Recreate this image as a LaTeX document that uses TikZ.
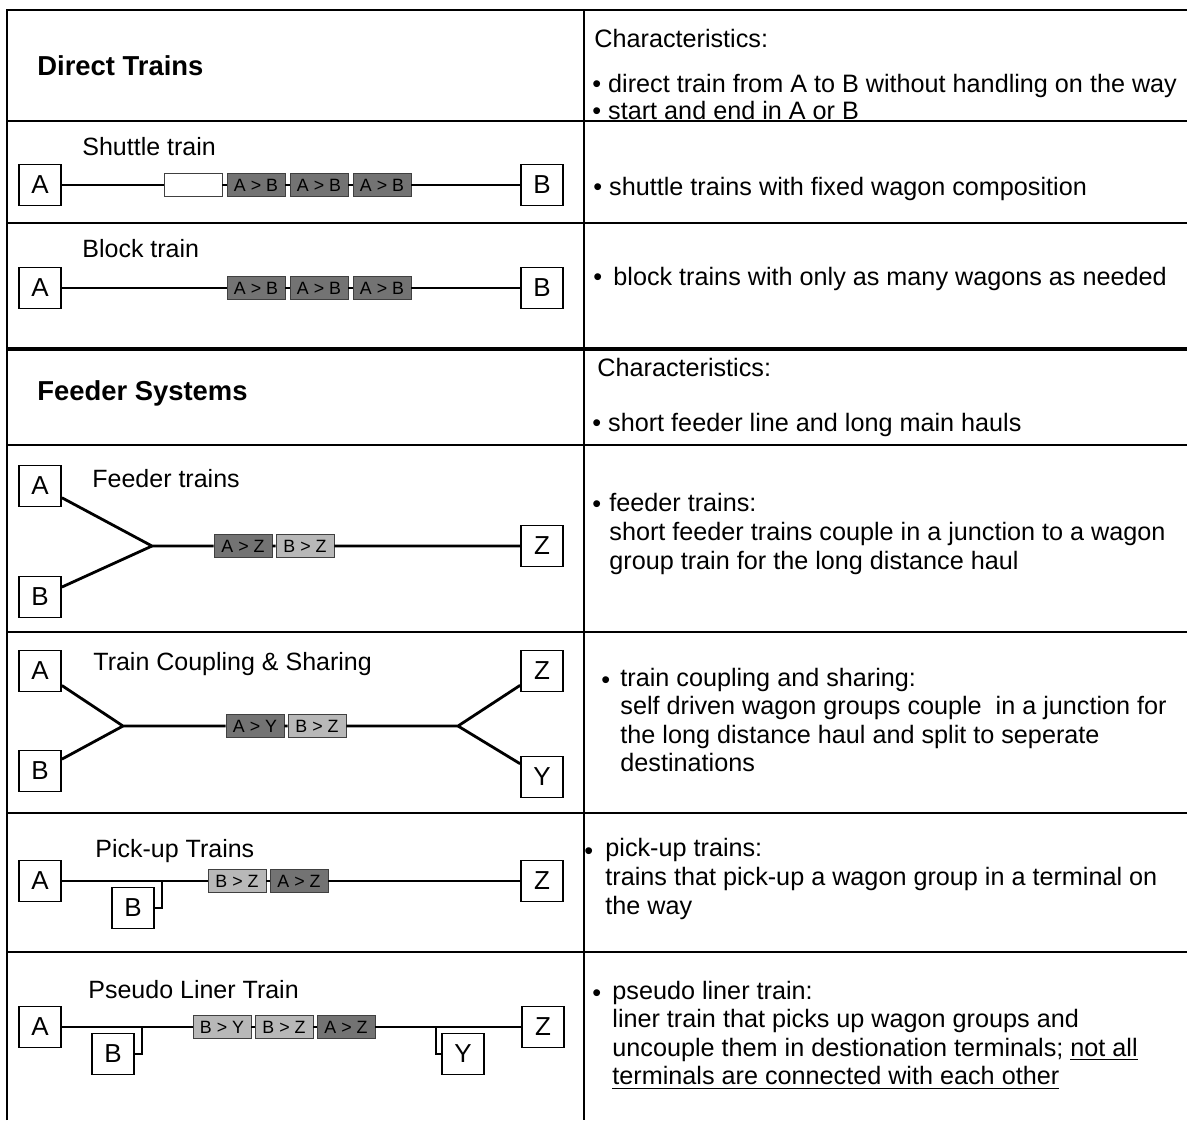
\documentclass[tikz,border=0pt]{standalone}
\usepackage{fontspec}
\setmainfont{Liberation Sans}
\tikzset{
  stn/.style={draw, line width=0.9pt, fill=white, minimum width=21pt, minimum height=20.5pt, inner sep=0pt, font=\fontsize{13}{14}\selectfont},
  wagon/.style={draw=black!75, line width=0.4pt, minimum width=29pt, minimum height=11.5pt, inner sep=0pt, font=\fontsize{8.9}{10}\selectfont},
  darkwagon/.style={wagon, fill=black!55},
  lightwagon/.style={wagon, fill=black!28},
  blankwagon/.style={wagon, fill=white},
  track/.style={line width=1.4pt},
  rule/.style={line width=0.9pt},
  lbl/.style={anchor=west, inner sep=0pt, font=\fontsize{12.5}{14}\selectfont},
  head/.style={anchor=west, inner sep=0pt, font=\bfseries\fontsize{13.7}{16}\selectfont},
  txt/.style={anchor=west, inner sep=0pt, align=left, font=\fontsize{12.6}{14.3}\selectfont},
}

\begin{document}
\begin{tikzpicture}[x=0.5pt, y=-0.5pt]
		%%%%% START %%%%%
		\useasboundingbox (0,0) rectangle (1187,1120);
		
		\draw[rule] (7,1120) -- (7,10) -- (1187,10);
		\draw[rule] (584,10) -- (584,1120);
		\draw[rule] (7,121) -- (1187,121);
		\draw[rule] (7,223) -- (1187,223);
		\draw[line width=1.8pt] (7,349) -- (1187,349);
		\draw[rule] (7,445) -- (1187,445);
		\draw[rule] (7,632) -- (1187,632);
		\draw[rule] (7,813) -- (1187,813);
		\draw[rule] (7,952) -- (1187,952);
		
		\node[head] (direct) at (37,66) {Direct Trains};
		\node[txt] (dchar) at (594,38) {Characteristics:};
		\node[txt] (dpt1) at (592,86) {\textbullet\ direct train from A to B without handling on the way};
		\node[txt] (dpt2) at (592,110) {\textbullet\ start and end in A or B};
		
		\node[lbl] (shuttle) at (82,147) {Shuttle train};
		\node[stn] (sa) at (40,185) {A};
		\node[blankwagon] (s0) at (193,185) {};
		\node[darkwagon] (s1) at (256,185) {A > B};
		\node[darkwagon] (s2) at (319,185) {A > B};
		\node[darkwagon] (s3) at (382,185) {A > B};
		\node[stn] (sb) at (542,185) {B};
		\draw[track] (sa) -- (s0) -- (s1) -- (s2) -- (s3) -- (sb);
		\node[txt] (spt) at (593,189) {\textbullet\ shuttle trains with fixed wagon composition};
		
		\node[lbl] (block) at (82,249) {Block train};
		\node[stn] (ba) at (40,288) {A};
		\node[darkwagon] (b1) at (256,288) {A > B};
		\node[darkwagon] (b2) at (319,288) {A > B};
		\node[darkwagon] (b3) at (382,288) {A > B};
		\node[stn] (bb) at (542,288) {B};
		\draw[track] (ba) -- (b1) -- (b2) -- (b3) -- (bb);
		\node[txt] (bpt) at (593,279) {\textbullet\ \,block trains with only as many wagons as needed};
		
		\node[head] (feeder) at (37,393) {Feeder Systems};
		\node[txt] (fchar) at (597,367) {Characteristics:};
		\node[txt] (fpt) at (592,425) {\textbullet\ short feeder line and long main hauls};
		
		\node[lbl] (feedlbl) at (92,479) {Feeder trains};
		\node[stn] (fa) at (40,486) {A};
		\node[stn] (fb) at (40,597) {B};
		\coordinate (fj) at (152,546);
		\node[darkwagon] (f1) at (243,546) {A > Z};
		\node[lightwagon] (f2) at (305,546) {B > Z};
		\node[stn] (fz) at (542,546) {Z};
		\draw[track] (fa) -- (fj) -- (f1) -- (f2) -- (fz);
		\draw[track] (fb) -- (fj);
		\node[txt] (fbul) at (592,506) {\textbullet\vphantom{fy}};
		\node[txt] (ftxt) at (609,534) {feeder trains:\\short feeder trains couple in a junction to a wagon\\group train for the long distance haul};
		
		\node[lbl] (couplbl) at (93,664) {Train Coupling \& Sharing};
		\node[stn] (ca) at (40,671) {A};
		\node[stn] (cb) at (40,771) {B};
		\coordinate (cj1) at (123,726);
		\node[darkwagon] (c1) at (255,726) {A > Y};
		\node[lightwagon] (c2) at (317,726) {B > Z};
		\coordinate (cj2) at (458,726);
		\node[stn] (cz) at (542,671) {Z};
		\node[stn] (cy) at (542,777) {Y};
		\draw[track] (ca) -- (cj1) -- (c1) -- (c2) -- (cj2) -- (cz);
		\draw[track] (cb) -- (cj1);
		\draw[track] (cj2) -- (cy);
		\node[txt] (cbul) at (601,682) {\textbullet\vphantom{fy}};
		\node[txt] (ctxt) at (620,720) {train coupling and sharing:\\self driven wagon groups couple\ \ in a junction for\\the long distance haul and split to seperate\\destinations};
		
		\node[lbl] (picklbl) at (95,851) {Pick-up Trains};
		\node[stn] (pa) at (40,881) {A};
		\node[stn] (pb) at (133,908) {B};
		\coordinate (pk) at (162,881);
		\node[lightwagon] (p1) at (237,881) {B > Z};
		\node[darkwagon] (p2) at (299,881) {A > Z};
		\node[stn] (pz) at (542,881) {Z};
		\draw[track] (pa) -- (p1) -- (p2) -- (pz);
		\draw[track] (pk) |- (pb);
		\node[txt] (pbul) at (584,853) {\textbullet\vphantom{fy}};
		\node[txt] (ptxt) at (605,879) {pick-up trains:\\trains that pick-up a wagon group in a terminal on\\the way};
		
		\node[lbl] (linerlbl) at (88,990) {Pseudo Liner Train};
		\node[stn] (la) at (40,1027) {A};
		\node[stn] (lb) at (113,1054) {B};
		\coordinate (lk1) at (142,1027);
		\node[lightwagon] (l1) at (222,1027) {B > Y};
		\node[lightwagon] (l2) at (284,1027) {B > Z};
		\node[darkwagon] (l3) at (346,1027) {A > Z};
		\coordinate (lk2) at (436,1027);
		\node[stn] (ly) at (463,1054) {Y};
		\node[stn] (lz) at (543,1027) {Z};
		\draw[track] (la) -- (l1) -- (l2) -- (l3) -- (lz);
		\draw[track] (lk1) |- (lb);
		\draw[track] (lk2) |- (ly);
		\node[txt] (lbul) at (592,995) {\textbullet\vphantom{fy}};
		\node[txt] (ltxt) at (612,1035) {pseudo liner train:\\liner train that picks up wagon groups and\\uncouple them in destionation terminals; \underline{not all}\\\underline{terminals are connected with each other}};
		
		%%%%% END %%%%%
\end{tikzpicture}
\end{document}
